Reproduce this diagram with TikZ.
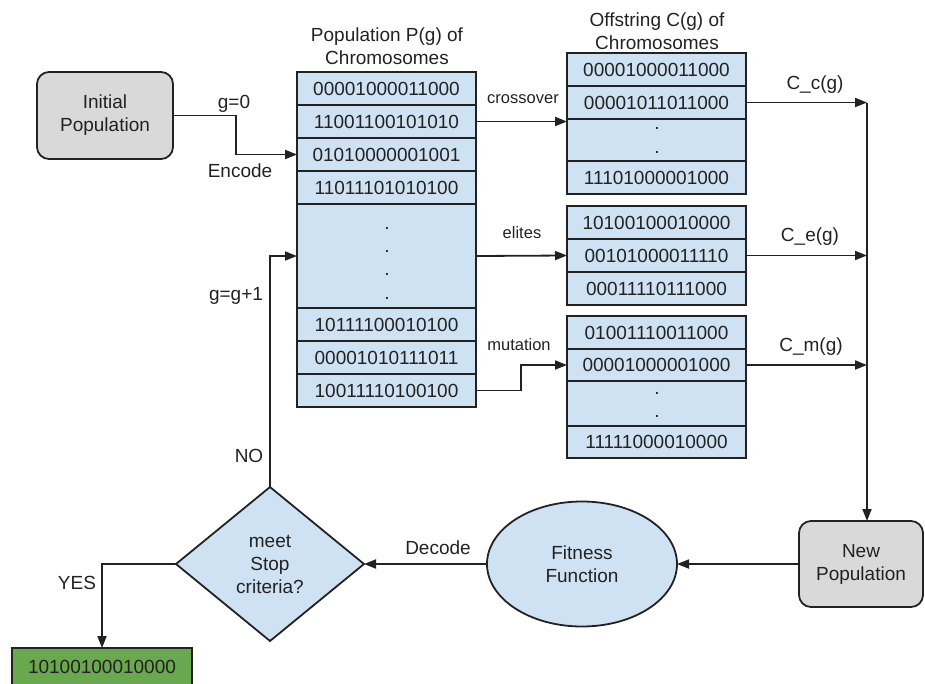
\documentclass[tikz,border=0pt]{standalone}
\usepackage{fontspec}
\setmainfont{Liberation Sans}
\usetikzlibrary{shapes.geometric,arrows.meta}

\definecolor{cellblue}{RGB}{207,226,243}
\definecolor{boxgray}{RGB}{217,217,217}
\definecolor{resgreen}{RGB}{106,168,79}
\definecolor{ink}{RGB}{34,34,34}

\tikzset{
  txt/.style={font=\fontsize{19}{23}\selectfont, text=ink},
  small/.style={font=\fontsize{16.5}{20}\selectfont, text=ink},
  cell/.style={txt, draw=ink, fill=cellblue, line width=1.8pt,
    minimum width=179pt, anchor=north west, inner sep=0pt, outer sep=0pt},
  dotc/.style={txt, inner sep=0pt},
  roundbox/.style={txt, draw=ink, fill=boxgray, line width=1.8pt,
    rounded corners=12pt, align=center, inner sep=0pt, outer sep=0pt},
  title/.style={txt, align=center, inner sep=0pt},
  lab/.style={txt, inner sep=0pt},
  arr/.style={draw=ink, line width=1.8pt, -{Triangle[length=12pt,width=9pt]}},
}

\begin{document}
\begin{tikzpicture}[x=1pt,y=-1pt]
\useasboundingbox (0,0) rectangle (925,683);

% start node
\node[roundbox, minimum width=136pt, minimum height=87pt] (init) at (105,115.5)
  {Initial\\Population};

% population P(g)
\node[title] (ptitle) at (387,46) {Population P(g) of\\Chromosomes};
\node[cell, minimum height=33pt] (p1) at (297,72)  {00001000011000};
\node[cell, minimum height=33pt] (p2) at (297,105) {11001100101010};
\node[cell, minimum height=33pt] (p3) at (297,138) {01010000001001};
\node[cell, minimum height=33pt] (p4) at (297,171) {11011101010100};
\node[cell, minimum height=104pt] (pd) at (297,204) {};
\node[cell, minimum height=33pt] (p6) at (297,308) {10111100010100};
\node[cell, minimum height=33pt] (p7) at (297,341) {00001010111011};
\node[cell, minimum height=33pt] (p8) at (297,374) {10011110100100};
\foreach \i/\y in {1/228,2/251,3/274,4/298}
  \node[dotc] (pdot\i) at (387,\y) {.};

% offspring C(g)
\node[title] (ctitle) at (657,31) {Offstring C(g) of\\Chromosomes};
\node[cell, minimum height=33pt] (c1) at (567,53)  {00001000011000};
\node[cell, minimum height=33pt] (c2) at (567,86)  {00001011011000};
\node[cell, minimum height=42pt] (c3) at (567,119) {};
\node[cell, minimum height=33pt] (c4) at (567,161) {11101000001000};
\foreach \i/\y in {1/128,2/152}
  \node[dotc] (cdot\i) at (657,\y) {.};

\node[cell, minimum height=33pt] (e1) at (567,206) {10100100010000};
\node[cell, minimum height=33pt] (e2) at (567,239) {00101000011110};
\node[cell, minimum height=33pt] (e3) at (567,272) {00011110111000};

\node[cell, minimum height=33pt] (m1) at (567,316) {01001110011000};
\node[cell, minimum height=32pt] (m2) at (567,349) {00001000001000};
\node[cell, minimum height=45pt] (m3) at (567,381) {};
\node[cell, minimum height=32pt] (m4) at (567,426) {11111000010000};
\foreach \i/\y in {1/393,2/416}
  \node[dotc] (mdot\i) at (657,\y) {.};

% lower loop
\node[roundbox, minimum width=124pt, minimum height=86pt] (newpop) at (861,564)
  {New\\Population};
\node[txt, draw=ink, fill=cellblue, line width=1.8pt, ellipse, align=center,
  minimum width=190pt, minimum height=125pt, inner sep=0pt, outer sep=0pt]
  (fit) at (582,564) {Fitness\\Function};
\node[txt, draw=ink, fill=cellblue, line width=1.8pt, diamond, aspect=1.22,
  align=center, minimum width=188pt, minimum height=154pt, inner sep=0pt,
  outer sep=0pt] (dia) at (270,564) {meet\\Stop\\criteria?};
\node[txt, draw=ink, fill=resgreen, line width=1.8pt, anchor=north,
  minimum width=180pt, minimum height=37pt, inner sep=0pt, outer sep=0pt]
  (res) at (102,648) {10100100010000};

% routing points
\coordinate (bus) at (867,0);
\coordinate (encx) at (236,0);
\coordinate (mutx) at (521,0);
\coordinate (bustop) at (c2.east -| bus);

% connectors
\draw[arr] (init.east) -- (init.east -| encx) |- (p3.west);
\draw[arr] (p2.east) -- (p2.east -| c3.west);
\draw[arr] (pd.east) -- (e2.west);
\draw[arr] (p8.east) -- (p8.east -| mutx) |- (m2.west);
\draw[arr] (c2.east) -- (bustop);
\draw[arr] (e2.east) -- (e2.east -| bus);
\draw[arr] (m2.east) -- (m2.east -| bus);
\draw[arr] (bustop) -- (bustop |- newpop.north);
\draw[arr] (newpop.west) -- (fit.east);
\draw[arr] (fit.west) -- (dia.east);
\draw[arr] (dia.west) -| (res.north);
\draw[arr] (dia.north) |- (pd.west);

% edge labels
\node[lab] (lg0) at (234,104) {g=0};
\node[lab] (lenc) at (240,171) {Encode};
\node[small] (lcross) at (523,99) {crossover};
\node[small] (lelite) at (522,233) {elites};
\node[small] (lmut) at (519,345) {mutation};
\node[lab] (lcc) at (815,85) {C\_c(g)};
\node[lab] (lce) at (810,237) {C\_e(g)};
\node[lab] (lcm) at (811,347) {C\_m(g)};
\node[lab] (linc) at (236,296) {g=g+1};
\node[lab] (lno) at (249,456) {NO};
\node[lab] (lyes) at (77,583) {YES};
\node[lab] (ldec) at (438,548) {Decode};
\end{tikzpicture}
\end{document}
